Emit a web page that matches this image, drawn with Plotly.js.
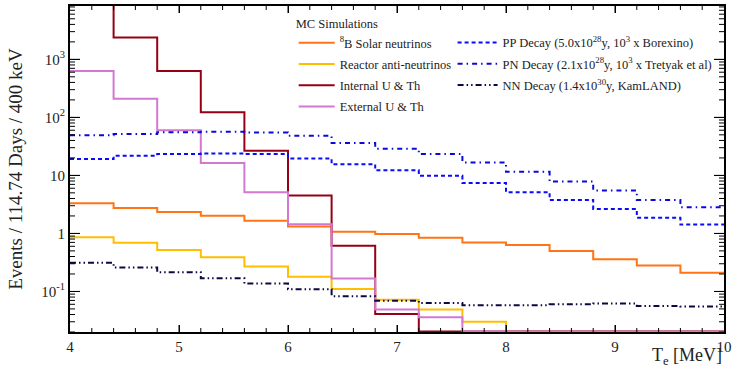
<!DOCTYPE html>
<html><head><meta charset="utf-8">
<script src="https://cdn.plot.ly/plotly-3.0.1.min.js"></script>
<style>html,body{margin:0;padding:0;background:#fff}</style>
</head><body>
<div id="chart" style="width:732px;height:368px"></div>
<script>
// Bin edges (MeV), 400 keV bins
const binEdges = [4.0,4.4,4.8,5.2,5.6,6.0,6.4,6.8,7.2,7.6,8.0,8.4,8.8,9.2,9.6,10.0];
// Events per bin
const solarB8     = [3.32,2.75,2.34,2.02,1.66,1.31,1.07,0.98,0.84,0.70,0.63,0.50,0.36,0.28,0.21];
const reactor     = [0.86,0.69,0.52,0.39,0.27,0.18,0.11,0.072,0.049,0.030,0,0,0,0,0];
const internalUTh = [12000,2370,630,122,26.7,4.5,0.61,0.041,0,0,0,0,0,0,0];
const externalUTh = [630,209,60,16.3,5.1,1.44,0.167,0.049,0.036,0,0,0,0,0,0];
const ppDecay     = [19.1,21.8,23.3,23.9,23.3,19.6,15.5,12.2,9.85,7.36,5.14,3.78,2.64,1.87,1.42];
const pnDecay     = [49,51.9,55.2,56.7,55,48.4,36.2,28.8,23.3,16.7,11.5,7.85,5.48,3.78,2.82];
const nnDecay     = [0.311,0.259,0.215,0.169,0.137,0.109,0.083,0.069,0.063,0.058,0.058,0.060,0.062,0.056,0.055];

const seriesNames = [
  "<sup>8</sup>B Solar neutrinos",
  "Reactor anti-neutrinos",
  "Internal U &amp; Th",
  "External U &amp; Th",
  "PP Decay (5.0x10<sup>28</sup>y, 10<sup>3</sup> x Borexino)",
  "PN Decay (2.1x10<sup>28</sup>y, 10<sup>3</sup> x Tretyak et al)",
  "NN Decay (1.4x10<sup>30</sup>y, KamLAND)"
];
const xTickVals = [4,5,6,7,8,9,10];
const yTickVals = [0.1,1,10,100,1000];
const yTickText = ["10<sup>-1</sup>","1","10","10<sup>2</sup>","10<sup>3</sup>"];

const yMin = 0.02, yMax = 8300;
const floorVal = 0.0205; // empty bins drawn on the axis floor (ROOT style)

function stepY(vals){
  const v = vals.map(d => d > 0 ? d : floorVal);
  return v.concat([v[v.length-1]]);
}
const styles = [
  {color:"#ff7415", dash:"solid", legend:"legend"},
  {color:"#ffbf00", dash:"solid", legend:"legend"},
  {color:"#960014", dash:"solid", legend:"legend"},
  {color:"#d278d2", dash:"solid", legend:"legend"},
  {color:"#0a0aff", dash:"4px,3px", legend:"legend2"},
  {color:"#0a0ad8", dash:"5px,4px,1.5px,4px", legend:"legend2"},
  {color:"#0a0a40", dash:"6px,3px,1.5px,3px,1.5px,3px", legend:"legend2"}
];
const allSeries = [solarB8, reactor, internalUTh, externalUTh, ppDecay, pnDecay, nnDecay];
const traces = allSeries.map((vals,i)=>({
  type:"scatter", mode:"lines", x:binEdges, y:stepY(vals),
  name:seriesNames[i], legend:styles[i].legend, legendgroup:"g"+i,
  line:{shape:"hv", color:styles[i].color, width:2, dash:styles[i].dash},
  hoverinfo:"skip"
}));

// minor tick values
const minorY = [];
[0.01,0.1,1,10,100,1000].forEach(d=>{ for(let k=2;k<=9;k++){ const v=k*d; if(v>=yMin && v<=yMax) minorY.push(v);} });
const minorX = [];
for (let i=21;i<50;i++){ if(i%5!==0) minorX.push(i/5); }

// ROOT-style tick marks on all four sides (drawn as axis-anchored pixel-length shapes)
const shapes = [];
function xTick(v, len){
  shapes.push({type:"line", xref:"x", yref:"paper", ysizemode:"pixel", yanchor:0, x0:v, x1:v, y0:0, y1:len, line:{color:"#000", width:1}});
  shapes.push({type:"line", xref:"x", yref:"paper", ysizemode:"pixel", yanchor:1, x0:v, x1:v, y0:0, y1:-len, line:{color:"#000", width:1}});
}
function yTick(v, len){
  shapes.push({type:"line", yref:"y", xref:"paper", xsizemode:"pixel", xanchor:0, y0:v, y1:v, x0:0, x1:len, line:{color:"#000", width:1}});
  shapes.push({type:"line", yref:"y", xref:"paper", xsizemode:"pixel", xanchor:1, y0:v, y1:v, x0:0, x1:-len, line:{color:"#000", width:1}});
}
xTickVals.slice(1,-1).forEach(v=>xTick(v,7));
minorX.forEach(v=>xTick(v,4));
yTickVals.forEach(v=>yTick(v,10));
minorY.forEach(v=>yTick(v,5));

const FAM = "Liberation Serif";
const layout = {
  width:732, height:368,
  margin:{l:70, r:8, t:6, b:36},
  paper_bgcolor:"#fff", plot_bgcolor:"#fff",
  font:{family:FAM, size:14, color:"#000"},
  showlegend:true,
  xaxis:{
    range:[4,10], tickmode:"array", tickvals:xTickVals, ticks:"inside", ticklen:7, tickcolor:"#000",
    showline:true, linecolor:"#000", linewidth:2, mirror:"ticks", showgrid:false,
    tickfont:{family:FAM, size:15, color:"#222"}
  },
  yaxis:{
    type:"log", range:[Math.log10(yMin), Math.log10(yMax)],
    tickmode:"array", tickvals:yTickVals, ticktext:yTickText, ticks:"inside", ticklen:10, tickcolor:"#000",
    showline:true, linecolor:"#000", linewidth:2, mirror:"ticks", showgrid:false,
    tickfont:{family:FAM, size:15, color:"#222"},
    title:{text:"Events / 114.74 Days / 400 keV", font:{family:FAM, size:19, color:"#222"}, standoff:14}
  },
  shapes:shapes,
  legend:{
    x:0.342, y:0.982, xanchor:"left", yanchor:"top",
    bgcolor:"rgba(0,0,0,0)", borderwidth:0,
    font:{family:FAM, size:12.5, color:"#222"}, itemwidth:36, tracegroupgap:2,
    title:{text:"MC Simulations", font:{family:FAM, size:12.5, color:"#222"}}
  },
  legend2:{
    x:0.585, y:0.933, xanchor:"left", yanchor:"top",
    bgcolor:"rgba(0,0,0,0)", borderwidth:0,
    font:{family:FAM, size:12.5, color:"#222"}, itemwidth:40, tracegroupgap:2
  },
  annotations:[{
    xref:"paper", yref:"paper", x:1, y:0, xanchor:"right", yanchor:"top", yshift:-11,
    text:"T<sub>e</sub> [MeV]", showarrow:false, font:{family:FAM, size:18, color:"#222"}
  }]
};
Plotly.newPlot("chart", traces, layout, {displayModeBar:false});
</script>
</body></html>
